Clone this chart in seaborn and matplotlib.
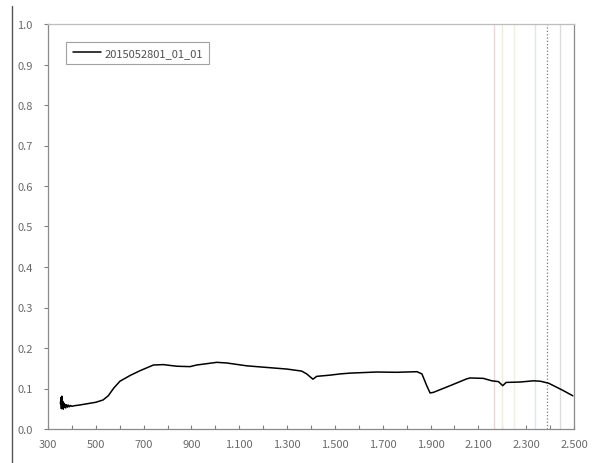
import numpy as np
import pandas as pd
import matplotlib
matplotlib.use("Agg")
import matplotlib.pyplot as plt
from matplotlib.ticker import FuncFormatter, FixedLocator, MultipleLocator
from matplotlib.lines import Line2D
import seaborn as sns

# Reflectance spectrum of sample 2015052801_01_01
wavelength = [352, 354, 356, 358, 360, 362, 364, 366, 368, 370, 374, 378, 382, 386,
              390, 395, 400, 410, 430, 460, 500, 530, 552, 575, 601, 643, 685,
              741, 782, 838, 894, 922, 1006, 1048, 1131, 1215, 1299, 1361, 1382,
              1408, 1424, 1480, 1522, 1564, 1675, 1759, 1843, 1864, 1884, 1898,
              1912, 1982, 2052, 2066, 2121, 2156, 2184, 2202, 2216, 2275, 2331,
              2359, 2394, 2428, 2456, 2495]
reflectance = [0.062, 0.078, 0.050, 0.081, 0.055, 0.068, 0.049, 0.064, 0.054, 0.061,
               0.052, 0.060, 0.054, 0.059, 0.055, 0.058, 0.056, 0.0575, 0.059, 0.062,
               0.066, 0.0716, 0.082, 0.101, 0.118, 0.132, 0.144,
               0.158, 0.159, 0.155, 0.154, 0.158, 0.1646, 0.163, 0.156, 0.152, 0.148,
               0.143, 0.136, 0.123, 0.130, 0.133, 0.136, 0.138, 0.1407, 0.140, 0.1415,
               0.136, 0.107, 0.089, 0.0905, 0.107, 0.124, 0.126, 0.125, 0.119, 0.117,
               0.107, 0.115, 0.116, 0.119, 0.118, 0.113, 0.103, 0.0946, 0.082]
sample_name = "2015052801_01_01"

# Labelled wavelengths on the x axis
x_tick_values = [300, 500, 700, 900, 1100, 1300, 1500, 1700, 1900, 2100, 2300, 2500]

# Diagnostic absorption wavelengths marked with vertical guides
marker_wavelengths = [2165, 2200, 2250, 2335, 2385, 2440]
marker_colors = ["#efd6d9", "#f3ebcf", "#ecf3de", "#d6e9ec", "#7a7a7a", "#dcdcdc"]
marker_styles = ["-", "-", "-", "-", ":", "-"]

sns.set_style("white")
plt.rcParams["font.family"] = ["Noto Sans CJK KR", "DejaVu Sans"]

df = pd.DataFrame({"wavelength": wavelength, "reflectance": reflectance,
                   "sample": sample_name})

fig = plt.figure(figsize=(5.93, 4.64), dpi=100)
ax = fig.add_axes([48 / 593, 1 - 430 / 464, (574 - 48) / 593, (430 - 25) / 464])

for wl, col, ls in zip(marker_wavelengths, marker_colors, marker_styles):
    ax.axvline(wl, color=col, lw=1.0 if ls == "-" else 0.9, ls=ls, zorder=1)

sns.lineplot(data=df, x="wavelength", y="reflectance", hue="sample",
             palette=["black"], linewidth=1.1, ax=ax, zorder=3, estimator=None,
             sort=False)

ax.set_xlim(300, 2500)
ax.set_ylim(0, 1.0)
ax.xaxis.set_major_locator(FixedLocator(x_tick_values))
ax.xaxis.set_minor_locator(MultipleLocator(100))
ax.yaxis.set_major_locator(MultipleLocator(0.1))
ax.xaxis.set_major_formatter(FuncFormatter(lambda v, p: f"{v:,.0f}".replace(",", ".")))
ax.yaxis.set_major_formatter(FuncFormatter(lambda v, p: f"{v:.1f}"))
ax.set_xlabel("")
ax.set_ylabel("")

text_color = "#6a6a6a"
ax.tick_params(axis="x", which="both", direction="in", length=3, width=0.8,
               color="#808080", labelsize=8, labelcolor=text_color, pad=7,
               bottom=True)
ax.tick_params(axis="y", which="major", direction="out", length=3, width=0.8,
               color="#808080", labelsize=8, labelcolor=text_color, pad=8,
               left=True)
for side in ["left", "bottom", "right"]:
    ax.spines[side].set_color("#8a8a8a")
    ax.spines[side].set_linewidth(0.9)
ax.spines["top"].set_color("#bdbdbd")
ax.spines["top"].set_linewidth(0.9)

leg = ax.legend(loc="upper left", bbox_to_anchor=(0.035, 0.955), frameon=True,
                fancybox=False, edgecolor="#8a8a8a", fontsize=8,
                handlelength=2.6, handletextpad=0.3, borderpad=0.55,
                borderaxespad=0)
leg.get_frame().set_linewidth(0.8)
for t in leg.get_texts():
    t.set_color("#505050")

# Left border of the page
fig.add_artist(Line2D([12 / 593, 12 / 593], [0, 1 - 7 / 464],
                      transform=fig.transFigure, color="#555555", lw=1.0))

fig.savefig("out.png", dpi=100)
